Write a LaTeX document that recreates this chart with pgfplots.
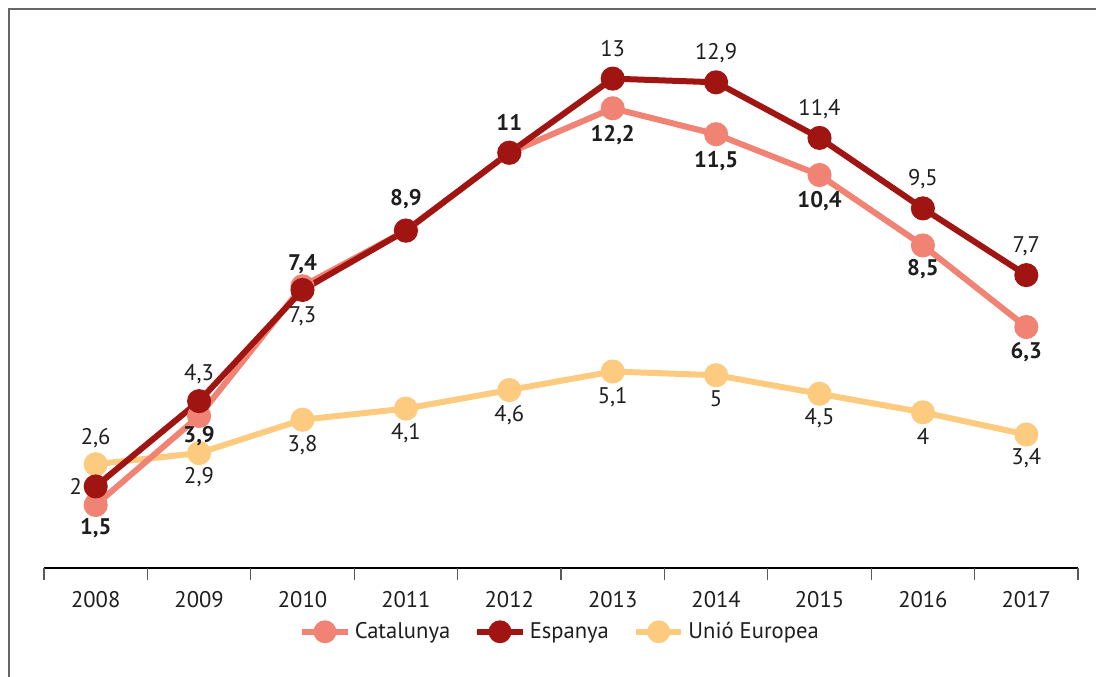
\documentclass[border=0pt]{standalone}
\usepackage{pgfplots}
\pgfplotsset{compat=1.18}
\usepackage{pgfplotstable}
\usepackage{fontspec}
\setmainfont{PT Sans}

\definecolor{catcol}{HTML}{F08373}
\definecolor{espcol}{HTML}{A01511}
\definecolor{uecol}{HTML}{FDCB80}
\definecolor{txt}{HTML}{1E1E1E}

% x y dx dy lab  (dx, dy: label offset in pt)
\pgfplotstableread{
x y dx dy lab
0 1.5 0 -11.5 {1,5}
1 3.9 0 -10 {3,9}
2 7.4 0 11 {7,4}
3 8.9 0 16 {8,9}
4 11 0 15 {11}
5 12.2 0 -13.5 {12,2}
6 11.5 0 -13.5 {11,5}
7 10.4 0 -13 {10,4}
8 8.5 0 -12 {8,5}
9 6.3 0 -12.5 {6,3}
}\cat
\pgfplotstableread{
x y dx dy lab
0 2 -10 0 {2}
1 4.3 0 13.5 {4,3}
2 7.3 0 -13 {7,3}
3 8.9 0 0 {}
4 11 0 0 {}
5 13 0 15 {13}
6 12.9 0 14.5 {12,9}
7 11.4 0 14.5 {11,4}
8 9.5 0 14.5 {9,5}
9 7.7 0 14.5 {7,7}
}\esp
\pgfplotstableread{
x y dx dy lab
0 2.6 0 13 {2,6}
1 2.9 0 -12 {2,9}
2 3.8 0 -12.5 {3,8}
3 4.1 0 -12.5 {4,1}
4 4.6 0 -12.5 {4,6}
5 5.1 0 -13 {5,1}
6 5 0 -12 {5}
7 4.5 0 -12 {4,5}
8 4 0 -12 {4}
9 3.4 0 -12 {3,4}
}\ue

\begin{document}
\begin{tikzpicture}
\begin{axis}[
    scale only axis,
    width=517pt, height=272.5pt,
    xmin=-0.5, xmax=9.5,
    ymin=-0.2, ymax=14.5,
    clip=false,
    axis x line*=bottom,
    axis y line=none,
    axis line style={black, line width=1.1pt},
    xtick={0,...,9},
    xticklabels={2008,2009,2010,2011,2012,2013,2014,2015,2016,2017},
    major tick length=0pt,
    tick align=outside,
    extra x ticks={-0.5,0.5,...,9.5},
    extra x tick labels={},
    extra x tick style={major tick length=6pt, tick style={gray!70!black, line width=0.6pt}},
    xticklabel style={font=\fontsize{11.3}{13}\selectfont, text=txt, yshift=-8pt},
    legend style={at={(0.5,-0.117)}, anchor=center, draw=none, fill=none,
      legend columns=3, font=\fontsize{11.3}{13}\selectfont,
      text=txt, /tikz/every even column/.append style={column sep=10pt}},
    legend image code/.code={\draw[mark repeat=2,mark phase=2] plot coordinates {(0cm,0cm) (0.4cm,0cm) (0.8cm,0cm)};},
    every axis plot/.append style={line width=3pt, mark=*, mark size=4.5pt,
      mark options={solid}},
    point meta=explicit symbolic,
    nodes near coords,
    visualization depends on={\thisrow{dx} \as \dx},
    visualization depends on={\thisrow{dy} \as \dy},
    every node near coord/.append style={anchor=center, xshift=\dx pt, yshift=\dy pt,
      text=txt, font=\fontsize{11.3}{13}\selectfont, inner sep=0pt},
]
\addlegendimage{catcol, line width=3pt, mark=*, mark size=4.2pt}
\addlegendentry{Catalunya}
\addlegendimage{espcol, line width=3pt, mark=*, mark size=4.2pt}
\addlegendentry{Espanya}
\addlegendimage{uecol, line width=3pt, mark=*, mark size=4.2pt}
\addlegendentry{Unió Europea}

\addplot[uecol, forget plot] table[x=x, y=y, meta=lab] {\ue};
\addplot[catcol, forget plot,
  every node near coord/.append style={font=\fontsize{11.3}{13}\selectfont\bfseries}]
  table[x=x, y=y, meta=lab] {\cat};
\addplot[espcol, forget plot] table[x=x, y=y, meta=lab] {\esp};

\coordinate (O) at (rel axis cs:0,0);
\end{axis}
\path[use as bounding box] ([shift={(-22pt,-54pt)}]O) rectangle ([shift={(526pt,284pt)}]O);
\draw[gray!80!black, line width=1pt] ([shift={(-17.5pt,-60pt)}]O) -- ([shift={(-17.5pt,279.5pt)}]O) -- ([shift={(530pt,279.5pt)}]O);
\end{tikzpicture}
\end{document}
